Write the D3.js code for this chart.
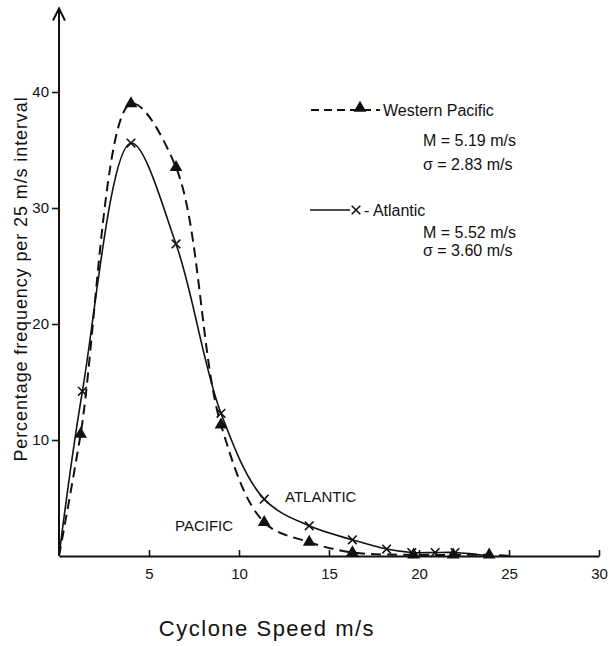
<!DOCTYPE html>
<html>
<head>
<meta charset="utf-8">
<script src="https://cdn.jsdelivr.net/npm/d3@7"></script>
<style>
  body { margin: 0; background: #fff; }
  svg text { font-family: "Liberation Sans", Arial, sans-serif; fill: #111; }
</style>
</head>
<body>
<div id="chart-area"></div>
<script>
// values (speed m/s, % frequency)
var pacificSpeed = [1.2, 4.0, 6.5, 9.0, 11.4, 13.9, 16.3, 19.7, 21.9, 23.9];
var pacificFreq  = [10.5, 39.0, 33.5, 11.3, 2.9, 1.2, 0.3, 0.1, 0.1, 0.1];
var atlanticSpeed = [1.3, 4.0, 6.5, 9.0, 11.4, 13.9, 16.3, 18.2, 19.6, 20.9, 22.0];
var atlanticFreq  = [14.2, 35.6, 26.9, 12.3, 4.9, 2.6, 1.4, 0.6, 0.3, 0.3, 0.3];
var xTicks = [5, 10, 15, 20, 25, 30];
var yTicks = [10, 20, 30, 40];

var pacific = pacificSpeed.map((s, i) => ({speed: s, freq: pacificFreq[i]}));
var atlantic = atlanticSpeed.map((s, i) => ({speed: s, freq: atlanticFreq[i]}));

var width = 612, height = 646;
var svg = d3.select("#chart-area").append("svg")
            .attr("width", width)
            .attr("height", height);

var x = d3.scaleLinear().domain([0, 30]).range([59, 599]);
var y = d3.scaleLinear().domain([0, 40]).range([556, 92]);

// curves start at the origin and run out along the axis
var line = d3.line()
    .x((d) => x(d.speed))
    .y((d) => y(d.freq))
    .curve(d3.curveCatmullRom.alpha(0.5));

var pacificPath = [{speed: 0, freq: 0}].concat(pacific, [{speed: 25, freq: 0}]);
var atlanticPath = [{speed: 0, freq: 0}].concat(atlantic, [{speed: 24, freq: 0}]);

svg.append("path")
    .attr("d", line(pacificPath))
    .attr("fill", "none")
    .attr("stroke", "#111")
    .attr("stroke-width", 2)
    .attr("stroke-dasharray", "10,6");

svg.append("path")
    .attr("d", line(atlanticPath))
    .attr("fill", "none")
    .attr("stroke", "#111")
    .attr("stroke-width", 1.6);

// axes
var xAxis = svg.append("g")
    .attr("transform", "translate(0," + y(0) + ")")
    .call(d3.axisBottom(x).tickValues(xTicks).tickSize(-6).tickSizeOuter(0).tickPadding(12));
xAxis.select(".domain").attr("stroke-width", 2).attr("stroke", "#111");
xAxis.selectAll(".tick line").attr("stroke-width", 1.6).attr("stroke", "#111");
xAxis.selectAll(".tick text").style("font-size", "15px").attr("dy", "0.71em");

var yAxis = svg.append("g")
    .attr("transform", "translate(" + x(0) + ",0)")
    .call(d3.axisLeft(y).tickValues(yTicks).tickSize(7).tickSizeOuter(0).tickPadding(3));
yAxis.select(".domain").remove();
yAxis.selectAll(".tick line").attr("stroke-width", 1.6).attr("stroke", "#111");
yAxis.selectAll(".tick text").style("font-size", "15px");

// y axis line with open arrow head
var yTop = y(47.2);
svg.append("line")
    .attr("x1", x(0)).attr("x2", x(0))
    .attr("y1", y(0)).attr("y2", yTop)
    .attr("stroke", "#111").attr("stroke-width", 2);
svg.append("path")
    .attr("d", "M" + (x(0) - 6) + "," + (yTop + 12) + "L" + x(0) + "," + yTop + "L" + (x(0) + 6) + "," + (yTop + 12))
    .attr("fill", "none").attr("stroke", "#111").attr("stroke-width", 2);

// markers
var tri = d3.symbol().type(d3.symbolTriangle).size(70);
var cross = d3.symbol().type(d3.symbolX).size(50);

svg.selectAll(".tri").data(pacific).enter().append("path")
    .attr("class", "tri")
    .attr("d", tri)
    .attr("transform", (d) => "translate(" + x(d.speed) + "," + y(d.freq) + ")")
    .attr("fill", "#111");

svg.selectAll(".cross").data(atlantic).enter().append("path")
    .attr("class", "cross")
    .attr("d", cross)
    .attr("transform", (d) => "translate(" + x(d.speed) + "," + y(d.freq) + ")")
    .attr("fill", "none")
    .attr("stroke", "#111")
    .attr("stroke-width", 1.6);

// curve labels
svg.append("text").attr("x", 285).attr("y", 502)
    .style("font-size", "15px").text("ATLANTIC");
svg.append("text").attr("x", 175).attr("y", 531)
    .style("font-size", "15px").text("PACIFIC");

// legend
var leg = svg.append("g");
leg.append("line").attr("x1", 311).attr("x2", 380).attr("y1", 110).attr("y2", 110)
    .attr("stroke", "#111").attr("stroke-width", 2).attr("stroke-dasharray", "8,5");
leg.append("path").attr("d", tri).attr("transform", "translate(360,108)").attr("fill", "#111");
leg.append("text").attr("x", 383).attr("y", 116).style("font-size", "16px").text("Western Pacific");
leg.append("text").attr("x", 423).attr("y", 146).style("font-size", "16px").text("M = 5.19 m/s");
leg.append("text").attr("x", 423).attr("y", 170).style("font-size", "16px").text("\u03c3 = 2.83 m/s");

leg.append("line").attr("x1", 310).attr("x2", 350).attr("y1", 210).attr("y2", 210)
    .attr("stroke", "#111").attr("stroke-width", 1.6);
leg.append("path").attr("d", cross).attr("transform", "translate(356,210)")
    .attr("fill", "none").attr("stroke", "#111").attr("stroke-width", 1.6);
leg.append("text").attr("x", 364).attr("y", 216).style("font-size", "16px").text("- Atlantic");
leg.append("text").attr("x", 423).attr("y", 238).style("font-size", "16px").text("M = 5.52 m/s");
leg.append("text").attr("x", 423).attr("y", 256).style("font-size", "16px").text("\u03c3 = 3.60 m/s");

// axis titles
svg.append("text")
    .attr("x", 267).attr("y", 636)
    .attr("text-anchor", "middle")
    .style("font-size", "22px")
    .style("letter-spacing", "1.5px")
    .text("Cyclone Speed m/s");

svg.append("text")
    .attr("transform", "translate(27,279) rotate(-90)")
    .attr("text-anchor", "middle")
    .style("font-size", "18px")
    .style("letter-spacing", "0.9px")
    .text("Percentage frequency per 25 m/s interval");
</script>
</body>
</html>
